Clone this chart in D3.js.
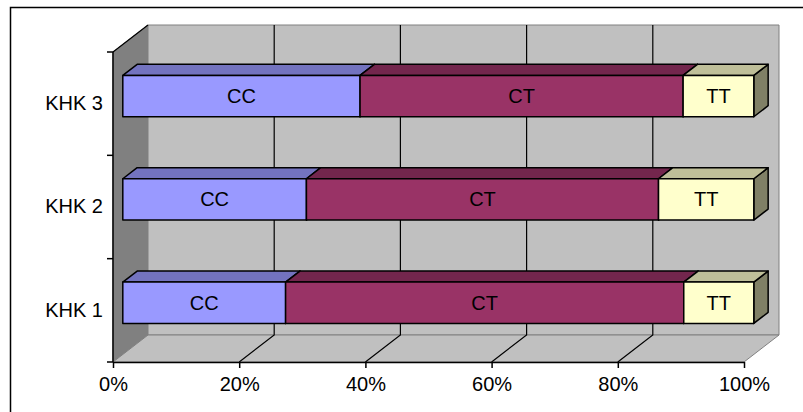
<!DOCTYPE html>
<html>
<head>
<meta charset="utf-8">
<script src="https://cdn.jsdelivr.net/npm/d3@7/dist/d3.min.js"></script>
<style>
  html, body { margin: 0; padding: 0; background: #fff; }
  svg { display: block; font-family: Arial, "Liberation Sans", sans-serif; }
</style>
</head>
<body>
<svg id="chart" width="803" height="412"></svg>
<script>
// Genotype shares (%) per group
const categories = ["KHK 1", "KHK 2", "KHK 3"];
const seriesNames = ["CC", "CT", "TT"];
const CC = [25.8, 29.1, 37.6];
const CT = [63.1, 55.8, 51.2];
const TT = [11.1, 15.1, 11.2];
const tickValues = [0, 20, 40, 60, 80, 100];
const tickLabels = ["0%", "20%", "40%", "60%", "80%", "100%"];

const faceColors = {
  CC: { front: "#9999FF", top: "#7373BF", side: "#4D4D80" },
  CT: { front: "#993366", top: "#73264D", side: "#4D1A33" },
  TT: { front: "#FFFFCC", top: "#BFBF99", side: "#808066" }
};

const svg = d3.select("#chart");

// Front plane of the plot box
const x = d3.scaleLinear().domain([0, 100]).range([113, 744]);
const y = d3.scaleBand().domain(categories.slice().reverse()).range([52, 362]);

// Oblique depth of the box (full depth offset)
const DX = 35, DY = 27;
const BAR_FRONT = 0.28, BAR_BACK = 0.69;
const P = (px, py, d) => [px + DX * d, py - DY * d];

const [y0, y1] = y.range();
const [x0, x1] = x.range();

// Outer frame
svg.append("rect")
  .attr("x", 10.5).attr("y", 7.5)
  .attr("width", 820).attr("height", 420)
  .attr("fill", "none").attr("stroke", "#000").attr("stroke-width", 1.5);

const walls = svg.append("g");
const poly = pts => pts.map(p => p.join(",")).join(" ");

// Side wall
walls.append("polygon")
  .attr("points", poly([P(x0, y0, 0), P(x0, y0, 1), P(x0, y1, 1), P(x0, y1, 0)]))
  .attr("fill", "#808080").attr("stroke", "#808080");
// Back wall
walls.append("polygon")
  .attr("points", poly([P(x0, y0, 1), P(x1, y0, 1), P(x1, y1, 1), P(x0, y1, 1)]))
  .attr("fill", "#C0C0C0").attr("stroke", "#808080");
// Floor
walls.append("polygon")
  .attr("points", poly([P(x0, y1, 0), P(x0, y1, 1), P(x1, y1, 1), P(x1, y1, 0)]))
  .attr("fill", "#C0C0C0").attr("stroke", "#808080");
// Side wall top edge
walls.append("line")
  .attr("x1", P(x0, y0, 0)[0]).attr("y1", P(x0, y0, 0)[1])
  .attr("x2", P(x0, y0, 1)[0]).attr("y2", P(x0, y0, 1)[1])
  .attr("stroke", "#000").attr("stroke-width", 1.2);

// Gridlines on back wall and floor
const gridVals = tickValues.filter(v => v > 0 && v < 100);
const grid = svg.append("g").attr("stroke", "#000").attr("stroke-width", 1.2);
gridVals.forEach(v => {
  const a = P(x(v), y0, 1), b = P(x(v), y1, 1), c = P(x(v), y1, 0);
  grid.append("polyline").attr("points", poly([a, b, c])).attr("fill", "none");
});

// Bars
const data = categories.map((cat, i) => {
  const vals = { CC: CC[i], CT: CT[i], TT: TT[i] };
  let acc = 0;
  return {
    cat,
    segs: seriesNames.map(s => { const seg = { s, v0: acc, v1: acc + vals[s] }; acc += vals[s]; return seg; })
  };
});

const bars = svg.append("g").attr("stroke", "#000").attr("stroke-width", 1.5).attr("stroke-linejoin", "round");
data.forEach(d => {
  const bw = y.bandwidth();
  const h = bw * 0.4;
  const c = y(d.cat) + bw / 2;
  const top = c - h / 2, bot = c + h / 2;
  d.segs.forEach(seg => {
    const col = faceColors[seg.s];
    const xa = x(seg.v0), xb = x(seg.v1);
    // right face
    bars.append("polygon")
      .attr("points", poly([P(xb, top, BAR_FRONT), P(xb, top, BAR_BACK), P(xb, bot, BAR_BACK), P(xb, bot, BAR_FRONT)]))
      .attr("fill", col.side);
    // top face
    bars.append("polygon")
      .attr("points", poly([P(xa, top, BAR_FRONT), P(xa, top, BAR_BACK), P(xb, top, BAR_BACK), P(xb, top, BAR_FRONT)]))
      .attr("fill", col.top);
    // front face
    bars.append("polygon")
      .attr("points", poly([P(xa, top, BAR_FRONT), P(xb, top, BAR_FRONT), P(xb, bot, BAR_FRONT), P(xa, bot, BAR_FRONT)]))
      .attr("fill", col.front);
    const fc = P((xa + xb) / 2, c, BAR_FRONT);
    svg.append("text")
      .attr("x", fc[0]).attr("y", fc[1])
      .attr("dy", "0.35em")
      .attr("text-anchor", "middle")
      .attr("font-size", 20)
      .attr("fill", "#000")
      .text(seg.s);
  });
});

// X axis along the front of the floor
const xAxis = d3.axisBottom(x)
  .tickValues(tickValues)
  .tickFormat((v, i) => tickLabels[i])
  .tickSize(6).tickSizeOuter(0).tickPadding(9);
const gx = svg.append("g").attr("transform", `translate(0,${y1})`).call(xAxis);
gx.select(".domain").attr("stroke", "#000").attr("stroke-width", 1.5);
gx.selectAll(".tick line").attr("stroke", "#000").attr("stroke-width", 1.5);
gx.selectAll("text").attr("font-size", 20).attr("font-family", "Arial, 'Liberation Sans', sans-serif").attr("fill", "#000");

// Y axis: category labels at band centers, ticks at band edges
const yAxis = d3.axisLeft(y).tickSize(0).tickPadding(10);
const gy = svg.append("g").attr("transform", `translate(${x0},0)`).call(yAxis);
gy.select(".domain").remove();
gy.selectAll("text").attr("font-size", 20).attr("font-family", "Arial, 'Liberation Sans', sans-serif").attr("fill", "#000");

const edges = y.domain().map(c => y(c)).concat([y1]);
const yl = svg.append("g").attr("stroke", "#000").attr("stroke-width", 1.5);
yl.append("line").attr("x1", x0).attr("x2", x0).attr("y1", y0).attr("y2", y1);
edges.forEach(e => {
  yl.append("line").attr("x1", x0 - 6).attr("x2", x0).attr("y1", e).attr("y2", e);
});
</script>
</body>
</html>
